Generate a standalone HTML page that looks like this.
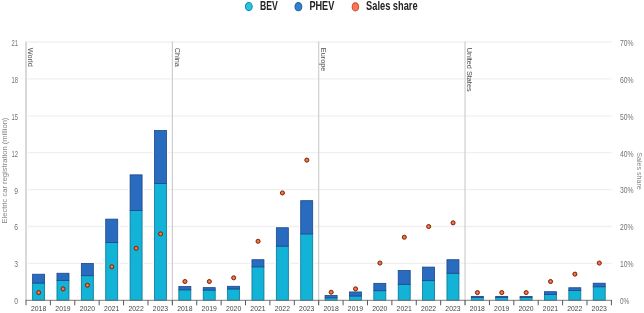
<!DOCTYPE html>
<html><head><meta charset="utf-8"><title>Electric car registrations and sales share</title>
<style>html,body{margin:0;padding:0;background:#fff;}body{width:644px;height:313px;overflow:hidden;font-family:"Liberation Sans",sans-serif;}svg{display:block;will-change:transform;transform:translateZ(0);}</style>
</head><body>
<svg width="644" height="313" viewBox="0 0 644 313" font-family="Liberation Sans, sans-serif">
<rect width="644" height="313" fill="#ffffff"/>
<defs><radialGradient id="dg" cx="50%" cy="50%" r="50%"><stop offset="0" stop-color="#ff8a4c"/><stop offset="0.55" stop-color="#f4682e"/><stop offset="1" stop-color="#e24a1c"/></radialGradient></defs>
<line x1="27.5" x2="611.7" y1="263.40" y2="263.40" stroke="#f0f0f0" stroke-width="1.3"/>
<line x1="27.5" x2="611.7" y1="226.50" y2="226.50" stroke="#f0f0f0" stroke-width="1.3"/>
<line x1="27.5" x2="611.7" y1="189.60" y2="189.60" stroke="#f0f0f0" stroke-width="1.3"/>
<line x1="27.5" x2="611.7" y1="152.70" y2="152.70" stroke="#f0f0f0" stroke-width="1.3"/>
<line x1="27.5" x2="611.7" y1="115.80" y2="115.80" stroke="#f0f0f0" stroke-width="1.3"/>
<line x1="27.5" x2="611.7" y1="78.90" y2="78.90" stroke="#f0f0f0" stroke-width="1.3"/>
<line x1="27.5" x2="611.7" y1="42.00" y2="42.00" stroke="#f0f0f0" stroke-width="1.3"/>
<line x1="26.0" x2="26.0" y1="41.5" y2="300.3" stroke="#cccccc" stroke-width="1.5"/>
<line x1="172.35" x2="172.35" y1="41.5" y2="305.3" stroke="#cacaca" stroke-width="1.1"/>
<line x1="318.70" x2="318.70" y1="41.5" y2="305.3" stroke="#cacaca" stroke-width="1.1"/>
<line x1="465.05" x2="465.05" y1="41.5" y2="305.3" stroke="#cacaca" stroke-width="1.1"/>
<text x="14.2" y="304.2" font-size="8.3" fill="#727272" textLength="3.8" lengthAdjust="spacingAndGlyphs">0</text>
<text x="619.9" y="304.1" font-size="8.3" fill="#727272" textLength="9.3" lengthAdjust="spacingAndGlyphs">0%</text>
<text x="14.2" y="267.3" font-size="8.3" fill="#727272" textLength="3.8" lengthAdjust="spacingAndGlyphs">3</text>
<text x="619.9" y="267.2" font-size="8.3" fill="#727272" textLength="13.6" lengthAdjust="spacingAndGlyphs">10%</text>
<text x="14.2" y="230.4" font-size="8.3" fill="#727272" textLength="3.8" lengthAdjust="spacingAndGlyphs">6</text>
<text x="619.9" y="230.3" font-size="8.3" fill="#727272" textLength="13.6" lengthAdjust="spacingAndGlyphs">20%</text>
<text x="14.2" y="193.5" font-size="8.3" fill="#727272" textLength="3.8" lengthAdjust="spacingAndGlyphs">9</text>
<text x="619.9" y="193.4" font-size="8.3" fill="#727272" textLength="13.6" lengthAdjust="spacingAndGlyphs">30%</text>
<text x="11.5" y="156.6" font-size="8.3" fill="#727272" textLength="6.5" lengthAdjust="spacingAndGlyphs">12</text>
<text x="619.9" y="156.5" font-size="8.3" fill="#727272" textLength="13.6" lengthAdjust="spacingAndGlyphs">40%</text>
<text x="11.5" y="119.7" font-size="8.3" fill="#727272" textLength="6.5" lengthAdjust="spacingAndGlyphs">15</text>
<text x="619.9" y="119.6" font-size="8.3" fill="#727272" textLength="13.6" lengthAdjust="spacingAndGlyphs">50%</text>
<text x="11.5" y="82.8" font-size="8.3" fill="#727272" textLength="6.5" lengthAdjust="spacingAndGlyphs">18</text>
<text x="619.9" y="82.7" font-size="8.3" fill="#727272" textLength="13.6" lengthAdjust="spacingAndGlyphs">60%</text>
<text x="11.5" y="45.9" font-size="8.3" fill="#727272" textLength="6.5" lengthAdjust="spacingAndGlyphs">21</text>
<text x="619.9" y="45.8" font-size="8.3" fill="#727272" textLength="13.6" lengthAdjust="spacingAndGlyphs">70%</text>
<text transform="translate(6.9,170.6) rotate(-90)" font-size="7.5" fill="#888" text-anchor="middle" textLength="106" lengthAdjust="spacingAndGlyphs">Electric car registration (million)</text>
<text transform="translate(636.7,171) rotate(90)" font-size="7.2" fill="#888" text-anchor="middle" textLength="37.5" lengthAdjust="spacingAndGlyphs">Sales share</text>
<text transform="translate(28.30,47.8) rotate(90)" font-size="7.3" fill="#4c4c4c">World</text>
<rect x="31.00" y="272.82" width="15.2" height="27.48" fill="#fff"/>
<rect x="32.60" y="283.08" width="12.0" height="17.22" fill="#12b3d6" stroke="#0a7595" stroke-width="0.8"/>
<rect x="32.60" y="274.22" width="12.0" height="8.86" fill="#296bbf" stroke="#1b478a" stroke-width="0.8"/>
<rect x="55.37" y="271.84" width="15.2" height="28.46" fill="#fff"/>
<rect x="56.97" y="280.37" width="12.0" height="19.93" fill="#12b3d6" stroke="#0a7595" stroke-width="0.8"/>
<rect x="56.97" y="273.24" width="12.0" height="7.13" fill="#296bbf" stroke="#1b478a" stroke-width="0.8"/>
<rect x="79.75" y="262.00" width="15.2" height="38.30" fill="#fff"/>
<rect x="81.34" y="275.70" width="12.0" height="24.60" fill="#12b3d6" stroke="#0a7595" stroke-width="0.8"/>
<rect x="81.34" y="263.40" width="12.0" height="12.30" fill="#296bbf" stroke="#1b478a" stroke-width="0.8"/>
<rect x="104.12" y="217.72" width="15.2" height="82.58" fill="#fff"/>
<rect x="105.72" y="242.49" width="12.0" height="57.81" fill="#12b3d6" stroke="#0a7595" stroke-width="0.8"/>
<rect x="105.72" y="219.12" width="12.0" height="23.37" fill="#296bbf" stroke="#1b478a" stroke-width="0.8"/>
<rect x="128.49" y="173.44" width="15.2" height="126.86" fill="#fff"/>
<rect x="130.09" y="210.51" width="12.0" height="89.79" fill="#12b3d6" stroke="#0a7595" stroke-width="0.8"/>
<rect x="130.09" y="174.84" width="12.0" height="35.67" fill="#296bbf" stroke="#1b478a" stroke-width="0.8"/>
<rect x="152.87" y="129.16" width="15.2" height="171.14" fill="#fff"/>
<rect x="154.47" y="183.45" width="12.0" height="116.85" fill="#12b3d6" stroke="#0a7595" stroke-width="0.8"/>
<rect x="154.47" y="130.56" width="12.0" height="52.89" fill="#296bbf" stroke="#1b478a" stroke-width="0.8"/>
<text transform="translate(174.65,47.8) rotate(90)" font-size="7.3" fill="#4c4c4c">China</text>
<rect x="177.24" y="285.12" width="15.2" height="15.18" fill="#fff"/>
<rect x="178.84" y="289.85" width="12.0" height="10.45" fill="#12b3d6" stroke="#0a7595" stroke-width="0.8"/>
<rect x="178.84" y="286.52" width="12.0" height="3.32" fill="#296bbf" stroke="#1b478a" stroke-width="0.8"/>
<rect x="201.61" y="286.23" width="15.2" height="14.07" fill="#fff"/>
<rect x="203.21" y="290.09" width="12.0" height="10.21" fill="#12b3d6" stroke="#0a7595" stroke-width="0.8"/>
<rect x="203.21" y="287.63" width="12.0" height="2.46" fill="#296bbf" stroke="#1b478a" stroke-width="0.8"/>
<rect x="225.99" y="284.88" width="15.2" height="15.42" fill="#fff"/>
<rect x="227.59" y="288.98" width="12.0" height="11.32" fill="#12b3d6" stroke="#0a7595" stroke-width="0.8"/>
<rect x="227.59" y="286.28" width="12.0" height="2.71" fill="#296bbf" stroke="#1b478a" stroke-width="0.8"/>
<rect x="250.36" y="258.31" width="15.2" height="41.99" fill="#fff"/>
<rect x="251.96" y="266.84" width="12.0" height="33.46" fill="#12b3d6" stroke="#0a7595" stroke-width="0.8"/>
<rect x="251.96" y="259.71" width="12.0" height="7.13" fill="#296bbf" stroke="#1b478a" stroke-width="0.8"/>
<rect x="274.74" y="226.33" width="15.2" height="73.97" fill="#fff"/>
<rect x="276.34" y="246.18" width="12.0" height="54.12" fill="#12b3d6" stroke="#0a7595" stroke-width="0.8"/>
<rect x="276.34" y="227.73" width="12.0" height="18.45" fill="#296bbf" stroke="#1b478a" stroke-width="0.8"/>
<rect x="299.11" y="199.27" width="15.2" height="101.03" fill="#fff"/>
<rect x="300.71" y="233.88" width="12.0" height="66.42" fill="#12b3d6" stroke="#0a7595" stroke-width="0.8"/>
<rect x="300.71" y="200.67" width="12.0" height="33.21" fill="#296bbf" stroke="#1b478a" stroke-width="0.8"/>
<text transform="translate(321.00,47.8) rotate(90)" font-size="7.3" fill="#4c4c4c">Europe</text>
<rect x="323.49" y="293.98" width="15.2" height="6.32" fill="#fff"/>
<rect x="325.09" y="297.84" width="12.0" height="2.46" fill="#12b3d6" stroke="#0a7595" stroke-width="0.8"/>
<rect x="325.09" y="295.38" width="12.0" height="2.46" fill="#296bbf" stroke="#1b478a" stroke-width="0.8"/>
<rect x="347.86" y="290.54" width="15.2" height="9.76" fill="#fff"/>
<rect x="349.46" y="296.00" width="12.0" height="4.31" fill="#12b3d6" stroke="#0a7595" stroke-width="0.8"/>
<rect x="349.46" y="291.94" width="12.0" height="4.06" fill="#296bbf" stroke="#1b478a" stroke-width="0.8"/>
<rect x="372.23" y="281.93" width="15.2" height="18.37" fill="#fff"/>
<rect x="373.83" y="290.71" width="12.0" height="9.59" fill="#12b3d6" stroke="#0a7595" stroke-width="0.8"/>
<rect x="373.83" y="283.33" width="12.0" height="7.38" fill="#296bbf" stroke="#1b478a" stroke-width="0.8"/>
<rect x="396.61" y="269.13" width="15.2" height="31.17" fill="#fff"/>
<rect x="398.21" y="284.31" width="12.0" height="15.99" fill="#12b3d6" stroke="#0a7595" stroke-width="0.8"/>
<rect x="398.21" y="270.53" width="12.0" height="13.78" fill="#296bbf" stroke="#1b478a" stroke-width="0.8"/>
<rect x="420.98" y="265.69" width="15.2" height="34.61" fill="#fff"/>
<rect x="422.58" y="280.62" width="12.0" height="19.68" fill="#12b3d6" stroke="#0a7595" stroke-width="0.8"/>
<rect x="422.58" y="267.09" width="12.0" height="13.53" fill="#296bbf" stroke="#1b478a" stroke-width="0.8"/>
<rect x="445.35" y="258.31" width="15.2" height="41.99" fill="#fff"/>
<rect x="446.95" y="273.24" width="12.0" height="27.06" fill="#12b3d6" stroke="#0a7595" stroke-width="0.8"/>
<rect x="446.95" y="259.71" width="12.0" height="13.53" fill="#296bbf" stroke="#1b478a" stroke-width="0.8"/>
<text transform="translate(467.35,47.8) rotate(90)" font-size="7.3" fill="#4c4c4c">United States</text>
<rect x="469.73" y="294.96" width="15.2" height="5.34" fill="#fff"/>
<rect x="471.33" y="297.35" width="12.0" height="2.95" fill="#12b3d6" stroke="#0a7595" stroke-width="0.8"/>
<rect x="471.33" y="296.36" width="12.0" height="0.98" fill="#296bbf" stroke="#1b478a" stroke-width="0.8"/>
<rect x="494.10" y="294.96" width="15.2" height="5.34" fill="#fff"/>
<rect x="495.70" y="297.35" width="12.0" height="2.95" fill="#12b3d6" stroke="#0a7595" stroke-width="0.8"/>
<rect x="495.70" y="296.36" width="12.0" height="0.98" fill="#296bbf" stroke="#1b478a" stroke-width="0.8"/>
<rect x="518.48" y="295.09" width="15.2" height="5.21" fill="#fff"/>
<rect x="520.08" y="297.35" width="12.0" height="2.95" fill="#12b3d6" stroke="#0a7595" stroke-width="0.8"/>
<rect x="520.08" y="296.49" width="12.0" height="0.86" fill="#296bbf" stroke="#1b478a" stroke-width="0.8"/>
<rect x="542.85" y="290.29" width="15.2" height="10.01" fill="#fff"/>
<rect x="544.45" y="294.40" width="12.0" height="5.90" fill="#12b3d6" stroke="#0a7595" stroke-width="0.8"/>
<rect x="544.45" y="291.69" width="12.0" height="2.71" fill="#296bbf" stroke="#1b478a" stroke-width="0.8"/>
<rect x="567.22" y="286.35" width="15.2" height="13.95" fill="#fff"/>
<rect x="568.82" y="290.46" width="12.0" height="9.84" fill="#12b3d6" stroke="#0a7595" stroke-width="0.8"/>
<rect x="568.82" y="287.75" width="12.0" height="2.71" fill="#296bbf" stroke="#1b478a" stroke-width="0.8"/>
<rect x="591.60" y="281.80" width="15.2" height="18.50" fill="#fff"/>
<rect x="593.20" y="286.77" width="12.0" height="13.53" fill="#12b3d6" stroke="#0a7595" stroke-width="0.8"/>
<rect x="593.20" y="283.20" width="12.0" height="3.57" fill="#296bbf" stroke="#1b478a" stroke-width="0.8"/>
<line x1="25.5" x2="612.1" y1="300.3" y2="300.3" stroke="#6e6e6e" stroke-width="0.9"/>
<line x1="26.00" x2="26.00" y1="300.3" y2="305.3" stroke="#444" stroke-width="0.9"/>
<line x1="50.39" x2="50.39" y1="300.3" y2="305.3" stroke="#444" stroke-width="0.9"/>
<line x1="74.78" x2="74.78" y1="300.3" y2="305.3" stroke="#444" stroke-width="0.9"/>
<line x1="99.17" x2="99.17" y1="300.3" y2="305.3" stroke="#444" stroke-width="0.9"/>
<line x1="123.57" x2="123.57" y1="300.3" y2="305.3" stroke="#444" stroke-width="0.9"/>
<line x1="147.96" x2="147.96" y1="300.3" y2="305.3" stroke="#444" stroke-width="0.9"/>
<line x1="172.35" x2="172.35" y1="300.3" y2="305.3" stroke="#444" stroke-width="0.9"/>
<line x1="196.74" x2="196.74" y1="300.3" y2="305.3" stroke="#444" stroke-width="0.9"/>
<line x1="221.13" x2="221.13" y1="300.3" y2="305.3" stroke="#444" stroke-width="0.9"/>
<line x1="245.52" x2="245.52" y1="300.3" y2="305.3" stroke="#444" stroke-width="0.9"/>
<line x1="269.92" x2="269.92" y1="300.3" y2="305.3" stroke="#444" stroke-width="0.9"/>
<line x1="294.31" x2="294.31" y1="300.3" y2="305.3" stroke="#444" stroke-width="0.9"/>
<line x1="318.70" x2="318.70" y1="300.3" y2="305.3" stroke="#444" stroke-width="0.9"/>
<line x1="343.09" x2="343.09" y1="300.3" y2="305.3" stroke="#444" stroke-width="0.9"/>
<line x1="367.48" x2="367.48" y1="300.3" y2="305.3" stroke="#444" stroke-width="0.9"/>
<line x1="391.88" x2="391.88" y1="300.3" y2="305.3" stroke="#444" stroke-width="0.9"/>
<line x1="416.27" x2="416.27" y1="300.3" y2="305.3" stroke="#444" stroke-width="0.9"/>
<line x1="440.66" x2="440.66" y1="300.3" y2="305.3" stroke="#444" stroke-width="0.9"/>
<line x1="465.05" x2="465.05" y1="300.3" y2="305.3" stroke="#444" stroke-width="0.9"/>
<line x1="489.44" x2="489.44" y1="300.3" y2="305.3" stroke="#444" stroke-width="0.9"/>
<line x1="513.83" x2="513.83" y1="300.3" y2="305.3" stroke="#444" stroke-width="0.9"/>
<line x1="538.23" x2="538.23" y1="300.3" y2="305.3" stroke="#444" stroke-width="0.9"/>
<line x1="562.62" x2="562.62" y1="300.3" y2="305.3" stroke="#444" stroke-width="0.9"/>
<line x1="587.01" x2="587.01" y1="300.3" y2="305.3" stroke="#444" stroke-width="0.9"/>
<line x1="611.40" x2="611.40" y1="300.3" y2="305.3" stroke="#444" stroke-width="0.9"/>
<text x="38.60" y="311.2" font-size="7.8" fill="#444" text-anchor="middle" textLength="15.2" lengthAdjust="spacingAndGlyphs">2018</text>
<text x="62.97" y="311.2" font-size="7.8" fill="#444" text-anchor="middle" textLength="15.2" lengthAdjust="spacingAndGlyphs">2019</text>
<text x="87.34" y="311.2" font-size="7.8" fill="#444" text-anchor="middle" textLength="15.2" lengthAdjust="spacingAndGlyphs">2020</text>
<text x="111.72" y="311.2" font-size="7.8" fill="#444" text-anchor="middle" textLength="15.2" lengthAdjust="spacingAndGlyphs">2021</text>
<text x="136.09" y="311.2" font-size="7.8" fill="#444" text-anchor="middle" textLength="15.2" lengthAdjust="spacingAndGlyphs">2022</text>
<text x="160.47" y="311.2" font-size="7.8" fill="#444" text-anchor="middle" textLength="15.2" lengthAdjust="spacingAndGlyphs">2023</text>
<text x="184.84" y="311.2" font-size="7.8" fill="#444" text-anchor="middle" textLength="15.2" lengthAdjust="spacingAndGlyphs">2018</text>
<text x="209.21" y="311.2" font-size="7.8" fill="#444" text-anchor="middle" textLength="15.2" lengthAdjust="spacingAndGlyphs">2019</text>
<text x="233.59" y="311.2" font-size="7.8" fill="#444" text-anchor="middle" textLength="15.2" lengthAdjust="spacingAndGlyphs">2020</text>
<text x="257.96" y="311.2" font-size="7.8" fill="#444" text-anchor="middle" textLength="15.2" lengthAdjust="spacingAndGlyphs">2021</text>
<text x="282.34" y="311.2" font-size="7.8" fill="#444" text-anchor="middle" textLength="15.2" lengthAdjust="spacingAndGlyphs">2022</text>
<text x="306.71" y="311.2" font-size="7.8" fill="#444" text-anchor="middle" textLength="15.2" lengthAdjust="spacingAndGlyphs">2023</text>
<text x="331.09" y="311.2" font-size="7.8" fill="#444" text-anchor="middle" textLength="15.2" lengthAdjust="spacingAndGlyphs">2018</text>
<text x="355.46" y="311.2" font-size="7.8" fill="#444" text-anchor="middle" textLength="15.2" lengthAdjust="spacingAndGlyphs">2019</text>
<text x="379.83" y="311.2" font-size="7.8" fill="#444" text-anchor="middle" textLength="15.2" lengthAdjust="spacingAndGlyphs">2020</text>
<text x="404.21" y="311.2" font-size="7.8" fill="#444" text-anchor="middle" textLength="15.2" lengthAdjust="spacingAndGlyphs">2021</text>
<text x="428.58" y="311.2" font-size="7.8" fill="#444" text-anchor="middle" textLength="15.2" lengthAdjust="spacingAndGlyphs">2022</text>
<text x="452.95" y="311.2" font-size="7.8" fill="#444" text-anchor="middle" textLength="15.2" lengthAdjust="spacingAndGlyphs">2023</text>
<text x="477.33" y="311.2" font-size="7.8" fill="#444" text-anchor="middle" textLength="15.2" lengthAdjust="spacingAndGlyphs">2018</text>
<text x="501.70" y="311.2" font-size="7.8" fill="#444" text-anchor="middle" textLength="15.2" lengthAdjust="spacingAndGlyphs">2019</text>
<text x="526.08" y="311.2" font-size="7.8" fill="#444" text-anchor="middle" textLength="15.2" lengthAdjust="spacingAndGlyphs">2020</text>
<text x="550.45" y="311.2" font-size="7.8" fill="#444" text-anchor="middle" textLength="15.2" lengthAdjust="spacingAndGlyphs">2021</text>
<text x="574.82" y="311.2" font-size="7.8" fill="#444" text-anchor="middle" textLength="15.2" lengthAdjust="spacingAndGlyphs">2022</text>
<text x="599.20" y="311.2" font-size="7.8" fill="#444" text-anchor="middle" textLength="15.2" lengthAdjust="spacingAndGlyphs">2023</text>
<circle cx="38.70" cy="292.58" r="2.05" fill="url(#dg)" stroke="#7a2a12" stroke-width="1"/>
<circle cx="63.07" cy="288.89" r="2.05" fill="url(#dg)" stroke="#7a2a12" stroke-width="1"/>
<circle cx="87.44" cy="285.20" r="2.05" fill="url(#dg)" stroke="#7a2a12" stroke-width="1"/>
<circle cx="111.82" cy="266.75" r="2.05" fill="url(#dg)" stroke="#7a2a12" stroke-width="1"/>
<circle cx="136.19" cy="248.30" r="2.05" fill="url(#dg)" stroke="#7a2a12" stroke-width="1"/>
<circle cx="160.57" cy="233.91" r="2.05" fill="url(#dg)" stroke="#7a2a12" stroke-width="1"/>
<circle cx="184.94" cy="281.51" r="2.05" fill="url(#dg)" stroke="#7a2a12" stroke-width="1"/>
<circle cx="209.31" cy="281.51" r="2.05" fill="url(#dg)" stroke="#7a2a12" stroke-width="1"/>
<circle cx="233.69" cy="277.82" r="2.05" fill="url(#dg)" stroke="#7a2a12" stroke-width="1"/>
<circle cx="258.06" cy="241.29" r="2.05" fill="url(#dg)" stroke="#7a2a12" stroke-width="1"/>
<circle cx="282.44" cy="192.95" r="2.05" fill="url(#dg)" stroke="#7a2a12" stroke-width="1"/>
<circle cx="306.81" cy="160.11" r="2.05" fill="url(#dg)" stroke="#7a2a12" stroke-width="1"/>
<circle cx="331.19" cy="292.21" r="2.05" fill="url(#dg)" stroke="#7a2a12" stroke-width="1"/>
<circle cx="355.56" cy="288.89" r="2.05" fill="url(#dg)" stroke="#7a2a12" stroke-width="1"/>
<circle cx="379.93" cy="263.06" r="2.05" fill="url(#dg)" stroke="#7a2a12" stroke-width="1"/>
<circle cx="404.31" cy="237.23" r="2.05" fill="url(#dg)" stroke="#7a2a12" stroke-width="1"/>
<circle cx="428.68" cy="226.53" r="2.05" fill="url(#dg)" stroke="#7a2a12" stroke-width="1"/>
<circle cx="453.06" cy="222.84" r="2.05" fill="url(#dg)" stroke="#7a2a12" stroke-width="1"/>
<circle cx="477.43" cy="292.58" r="2.05" fill="url(#dg)" stroke="#7a2a12" stroke-width="1"/>
<circle cx="501.80" cy="292.58" r="2.05" fill="url(#dg)" stroke="#7a2a12" stroke-width="1"/>
<circle cx="526.18" cy="292.58" r="2.05" fill="url(#dg)" stroke="#7a2a12" stroke-width="1"/>
<circle cx="550.55" cy="281.51" r="2.05" fill="url(#dg)" stroke="#7a2a12" stroke-width="1"/>
<circle cx="574.92" cy="274.13" r="2.05" fill="url(#dg)" stroke="#7a2a12" stroke-width="1"/>
<circle cx="599.30" cy="263.06" r="2.05" fill="url(#dg)" stroke="#7a2a12" stroke-width="1"/>
<ellipse cx="248.8" cy="6.6" rx="3.4" ry="4.05" fill="#2cc3df" stroke="#1191b3" stroke-width="1.1"/>
<text x="259.9" y="10.35" font-size="12" font-weight="bold" fill="#222" textLength="17.8" lengthAdjust="spacingAndGlyphs">BEV</text>
<ellipse cx="298.4" cy="6.7" rx="3.4" ry="4.05" fill="#3580c8" stroke="#1c66ac" stroke-width="1.1"/>
<text x="309.4" y="10.35" font-size="12" font-weight="bold" fill="#222" textLength="24.9" lengthAdjust="spacingAndGlyphs">PHEV</text>
<ellipse cx="355.4" cy="6.9" rx="3.2" ry="4.05" fill="#f57a5c" stroke="#d94c2c" stroke-width="1.1"/>
<text x="366.1" y="10.35" font-size="12" font-weight="bold" fill="#222" textLength="51.5" lengthAdjust="spacingAndGlyphs">Sales share</text>
</svg>
</body></html>
